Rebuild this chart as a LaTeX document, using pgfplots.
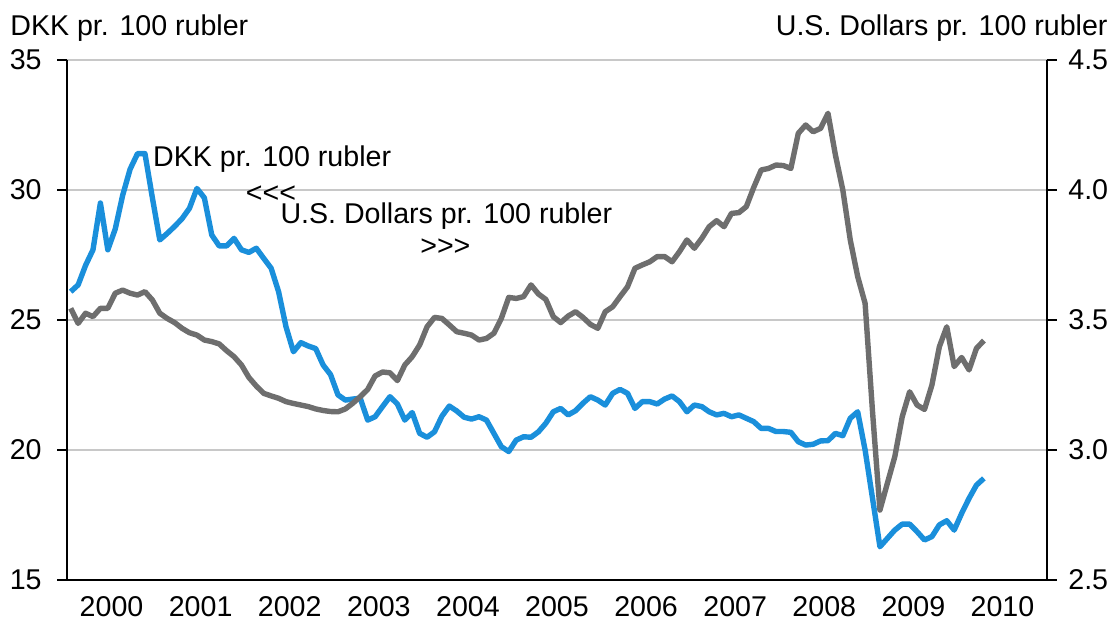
\documentclass[border=0pt]{standalone}
\usepackage{fontspec}
\setmainfont{Liberation Sans}
\usepackage{pgfplots}
\pgfplotsset{compat=1.18}
\usepackage{pgfplotstable}
\definecolor{rubblue}{HTML}{1A8FDB}
\definecolor{rubgray}{HTML}{6E6E6E}
\definecolor{gridgray}{HTML}{C8C8C8}

% month index m = 0 for Jan 2000
\pgfplotstableread{
m v
0 26.09
1 26.35
2 27.1
3 27.7
4 29.5
5 27.7
6 28.5
7 29.8
8 30.8
9 31.4
10 31.4
11 29.7
12 28.08
13 28.33
14 28.6
15 28.9
16 29.3
17 30.06
18 29.7
19 28.27
20 27.85
21 27.85
22 28.14
23 27.7
24 27.6
25 27.76
26 27.37
27 26.99
28 26.09
29 24.74
30 23.78
31 24.13
32 24.0
33 23.9
34 23.27
35 22.9
36 22.12
37 21.92
38 21.96
39 21.99
40 21.15
41 21.28
42 21.67
43 22.05
44 21.77
45 21.15
46 21.44
47 20.64
48 20.49
49 20.7
50 21.3
51 21.69
52 21.5
53 21.26
54 21.19
55 21.28
56 21.15
57 20.64
58 20.13
59 19.94
60 20.38
61 20.51
62 20.49
63 20.7
64 21.03
65 21.47
66 21.6
67 21.35
68 21.51
69 21.8
70 22.05
71 21.92
72 21.73
73 22.18
74 22.33
75 22.18
76 21.6
77 21.86
78 21.86
79 21.77
80 21.96
81 22.08
82 21.86
83 21.47
84 21.73
85 21.67
86 21.47
87 21.35
88 21.41
89 21.28
90 21.35
91 21.22
92 21.09
93 20.83
94 20.83
95 20.71
96 20.71
97 20.68
98 20.32
99 20.19
100 20.22
101 20.35
102 20.36
103 20.64
104 20.55
105 21.22
106 21.47
107 20.0
108 18.14
109 16.28
110 16.6
111 16.92
112 17.15
113 17.15
114 16.86
115 16.54
116 16.67
117 17.12
118 17.28
119 16.92
120 17.56
121 18.14
122 18.65
123 18.91
}\dkk

\pgfplotstableread{
m v
0 3.545
1 3.487
2 3.526
3 3.513
4 3.545
5 3.545
6 3.603
7 3.615
8 3.603
9 3.596
10 3.609
11 3.577
12 3.526
13 3.506
14 3.49
15 3.468
16 3.451
17 3.442
18 3.423
19 3.417
20 3.408
21 3.382
22 3.359
23 3.327
24 3.279
25 3.246
26 3.218
27 3.208
28 3.199
29 3.186
30 3.179
31 3.173
32 3.167
33 3.158
34 3.152
35 3.148
36 3.147
37 3.158
38 3.18
39 3.205
40 3.233
41 3.285
42 3.30
43 3.297
44 3.267
45 3.327
46 3.359
47 3.404
48 3.474
49 3.51
50 3.506
51 3.481
52 3.455
53 3.449
54 3.442
55 3.423
56 3.429
57 3.449
58 3.506
59 3.587
60 3.583
61 3.59
62 3.635
63 3.6
64 3.579
65 3.513
66 3.49
67 3.515
68 3.532
69 3.51
70 3.483
71 3.468
72 3.532
73 3.551
74 3.59
75 3.628
76 3.699
77 3.712
78 3.724
79 3.744
80 3.744
81 3.724
82 3.763
83 3.808
84 3.776
85 3.814
86 3.859
87 3.882
88 3.859
89 3.91
90 3.913
91 3.936
92 4.01
93 4.077
94 4.083
95 4.096
96 4.094
97 4.083
98 4.218
99 4.25
100 4.224
101 4.237
102 4.295
103 4.135
104 4.0
105 3.808
106 3.667
107 3.564
108 3.147
109 2.769
110 2.872
111 2.974
112 3.128
113 3.224
114 3.173
115 3.156
116 3.25
117 3.397
118 3.474
119 3.321
120 3.356
121 3.308
122 3.391
123 3.421
}\usd

\begin{document}
\begin{tikzpicture}
\useasboundingbox (-33.5pt,-21.5pt) rectangle (523.5pt,290pt);
\pgfplotsset{
  every axis/.append style={
    scale only axis, width=490pt, height=260pt,
    xmin=2000, xmax=2011,
    font=\fontsize{14.3}{17}\selectfont,
    /pgf/number format/assume math mode=true,
    tick align=outside,
    axis line style={black, line width=0.6pt},
    every tick/.style={black, line width=0.6pt},
    major tick length=5pt,
    clip mode=individual,
  }
}
\begin{axis}[
  axis x line*=bottom, axis y line*=left,
  ymin=15, ymax=35,
  ytick={15,20,25,30,35},
  yticklabels={15,20,25,30,35},
  ymajorgrids, grid style={gridgray, line width=0.7pt},
  xtick={2000.5,2001.5,2002.5,2003.5,2004.5,2005.5,2006.5,2007.5,2008.5,2009.5,2010.5},
  xticklabels={2000,2001,2002,2003,2004,2005,2006,2007,2008,2009,2010},
  xmajorgrids=false,
  extra x ticks={2000,2001,2002,2003,2004,2005,2006,2007,2008,2009,2010,2011},
  extra x tick labels={},
  extra x tick style={major tick length=6pt, grid=none},
  x tick style={draw=none},
  extra x tick style={tick style={draw=black}},
  yticklabel style={anchor=east, inner sep=0pt, xshift=-7.5pt},
  xticklabel style={anchor=north, inner sep=0pt, yshift=-3pt},
]
\addplot[rubblue, line width=2.7pt, line join=round] table[x expr={2000+(\thisrow{m}+0.5)/12}, y=v] {\dkk};
\node[anchor=base] at (axis cs:2002.303,30.885) {DKK pr. 100 rubler};
\node[anchor=center] at (axis cs:2002.29,29.85) {<\kern0pt<\kern0pt<};
\node[anchor=base] at (axis cs:2004.258,28.73) {U.S. Dollars pr. 100 rubler};
\node[anchor=center] at (axis cs:2004.247,27.81) {>\kern0pt>\kern0pt>};
\node[anchor=base west, inner sep=0pt] at (axis description cs:-0.0582,1.048) {DKK pr. 100 rubler};
\node[anchor=base east, inner sep=0pt] at (axis description cs:1.0622,1.048) {U.S. Dollars pr. 100 rubler};
\end{axis}
\begin{axis}[
  axis x line=none, axis y line*=right,
  ymin=2.5, ymax=4.5,
  ytick={2.5,3.0,3.5,4.0,4.5},
  yticklabels={2.5,3.0,3.5,4.0,4.5},
  yticklabel style={anchor=west, inner sep=0pt, xshift=5.5pt},
]
\addplot[rubgray, line width=2.7pt, line join=round] table[x expr={2000+(\thisrow{m}+0.5)/12}, y=v] {\usd};
\end{axis}
\end{tikzpicture}
\end{document}
